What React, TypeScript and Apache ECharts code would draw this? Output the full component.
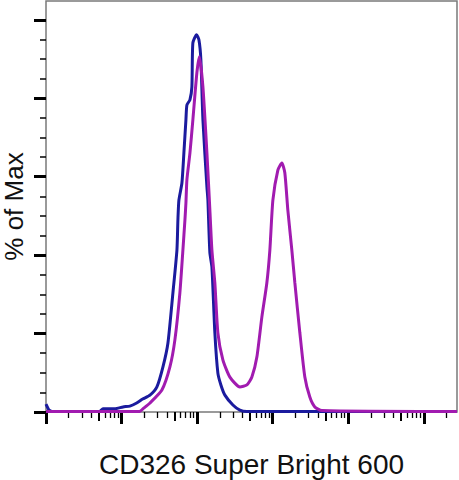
import React, { useEffect, useRef } from "react";
import * as echarts from "echarts";

// x values are log10 of fluorescence intensity, y values are % of max
const unstainedX = [0, 0.04, 0.08, 0.71, 0.754, 0.91, 1.02, 1.11, 1.2, 1.28, 1.376, 1.468, 1.548, 1.614, 1.68, 1.733, 1.746, 1.759, 1.799, 1.825, 1.852, 1.865, 1.905, 1.931, 1.944, 1.993, 2.024, 2.05, 2.077, 2.13, 2.143, 2.169, 2.196, 2.235, 2.275, 2.315, 2.368, 2.474, 2.566, 2.66, 5.44];
const unstainedY = [2.0, 0.5, 0.15, 0.15, 0.8, 0.8, 1.3, 1.5, 2.3, 3.3, 4.3, 6.4, 11.5, 17.6, 30.4, 41.3, 49, 54, 58.4, 66, 74.5, 78.3, 79.6, 82.9, 94.1, 96.2, 94.9, 89.8, 74.5, 57.4, 54, 40.6, 37, 20.2, 9.9, 6.9, 4.3, 1.8, 0.5, 0.15, 0.15];

const stainedX = [0, 1.24, 1.283, 1.376, 1.534, 1.64, 1.706, 1.772, 1.812, 1.839, 1.852, 1.865, 1.905, 1.944, 1.997, 2.030, 2.077, 2.13, 2.169, 2.196, 2.235, 2.275, 2.341, 2.434, 2.566, 2.659, 2.725, 2.791, 2.857, 2.923, 2.963, 3.003, 3.069, 3.122, 3.161, 3.201, 3.254, 3.294, 3.36, 3.426, 3.492, 3.558, 3.651, 5.44];
const stainedY = [0.15, 0.15, 0.8, 2.3, 5.6, 11.5, 18.4, 30.4, 41.3, 49, 53.3, 59.2, 66, 74.5, 86.5, 90.6, 82.9, 66, 51.5, 41.3, 32.9, 20.2, 13.3, 8.9, 6.4, 6.9, 8.9, 14, 24.2, 32.9, 41.3, 54, 61.7, 63.5, 61, 51.5, 41.3, 32.9, 20.2, 8.9, 3.8, 1.3, 0.4, 0.15];

// tick positions
const yMajorTicks = [0, 20, 40, 60, 80, 100];
const yMinorTicks = [5, 10, 15, 25, 30, 35, 45, 50, 55, 65, 70, 75, 85, 90, 95];
const decades = [0, 1, 2, 3, 4, 5];
const midDigits = [5];
const minorDigits = [2, 3, 4, 6, 7, 8, 9];

const X_MAX = 5.44;
const Y_MAX = 104.8;

const xTitle = "CD326 Super Bright 600";
const yTitle = "% of Max";

const FONT = "'Liberation Sans', Arial, Helvetica, sans-serif";

function decadeTicks(digits: number[]): number[] {
  const out: number[] = [];
  decades.forEach((d) => {
    digits.forEach((g) => {
      const v = d + Math.log10(g);
      if (v <= X_MAX) out.push(+v.toFixed(4));
    });
  });
  return out;
}

function zip(xs: number[], ys: number[]) {
  return xs.map((x, i) => [x, ys[i]]);
}

export default function App() {
  const ref = useRef<HTMLDivElement>(null);
  useEffect(() => {
    if (!ref.current) return;
    const chart = echarts.init(ref.current, null, { renderer: "svg" });
    const baseX = {
      type: "value" as const,
      min: 0,
      max: X_MAX,
      position: "bottom" as const,
      axisLine: { show: false },
      axisLabel: { show: false },
      splitLine: { show: false },
    };
    const baseY = {
      type: "value" as const,
      min: 0,
      max: Y_MAX,
      position: "left" as const,
      axisLine: { show: false },
      axisLabel: { show: false },
      splitLine: { show: false },
    };
    chart.setOption({
      animation: false,
      backgroundColor: "#ffffff",
      grid: {
        left: 46,
        right: 2,
        top: 1,
        bottom: 68,
        containLabel: false,
        outerBoundsMode: "none",
        show: true,
        borderColor: "#7a7a7a",
        borderWidth: 1.5,
        backgroundColor: "transparent",
      },
      xAxis: [
        {
          ...baseX,
          name: xTitle,
          nameLocation: "middle",
          nameGap: 37,
          nameTextStyle: { fontFamily: FONT, fontSize: 28, lineHeight: 30, color: "#111" },
          axisTick: {
            show: true,
            customValues: decades,
            length: 12,
            lineStyle: { color: "#000", width: 3 },
          },
        },
        {
          ...baseX,
          axisTick: {
            show: true,
            customValues: decadeTicks(midDigits),
            length: 9,
            lineStyle: { color: "#000", width: 2 },
          },
        },
        {
          ...baseX,
          axisTick: {
            show: true,
            customValues: decadeTicks(minorDigits),
            length: 6,
            lineStyle: { color: "#000", width: 1.3 },
          },
        },
      ],
      yAxis: [
        {
          ...baseY,
          name: yTitle,
          nameLocation: "middle",
          nameGap: 19,
          nameTextStyle: { fontFamily: FONT, fontSize: 26, lineHeight: 26, color: "#111" },
          axisTick: {
            show: true,
            customValues: yMajorTicks,
            length: 12,
            lineStyle: { color: "#000", width: 3 },
          },
        },
        {
          ...baseY,
          axisTick: {
            show: true,
            customValues: yMinorTicks,
            length: 6,
            lineStyle: { color: "#000", width: 1.5 },
          },
        },
      ],
      series: [
        {
          name: "Unstained",
          type: "line",
          xAxisIndex: 0,
          yAxisIndex: 0,
          data: zip(unstainedX, unstainedY),
          showSymbol: false,
          smooth: 0.2,
          lineStyle: { color: "#1b1b9e", width: 3 },
          itemStyle: { color: "#1b1b9e" },
          z: 2,
        },
        {
          name: "CD326",
          type: "line",
          xAxisIndex: 0,
          yAxisIndex: 0,
          data: zip(stainedX, stainedY),
          showSymbol: false,
          smooth: 0.2,
          lineStyle: { color: "#a11bb0", width: 3 },
          itemStyle: { color: "#a11bb0" },
          z: 3,
        },
      ],
    });
    return () => chart.dispose();
  }, []);
  return (
    <div
      ref={ref}
      style={{ position: "fixed", left: 0, top: 0, width: 459, height: 480, background: "#fff" }}
    />
  );
}
